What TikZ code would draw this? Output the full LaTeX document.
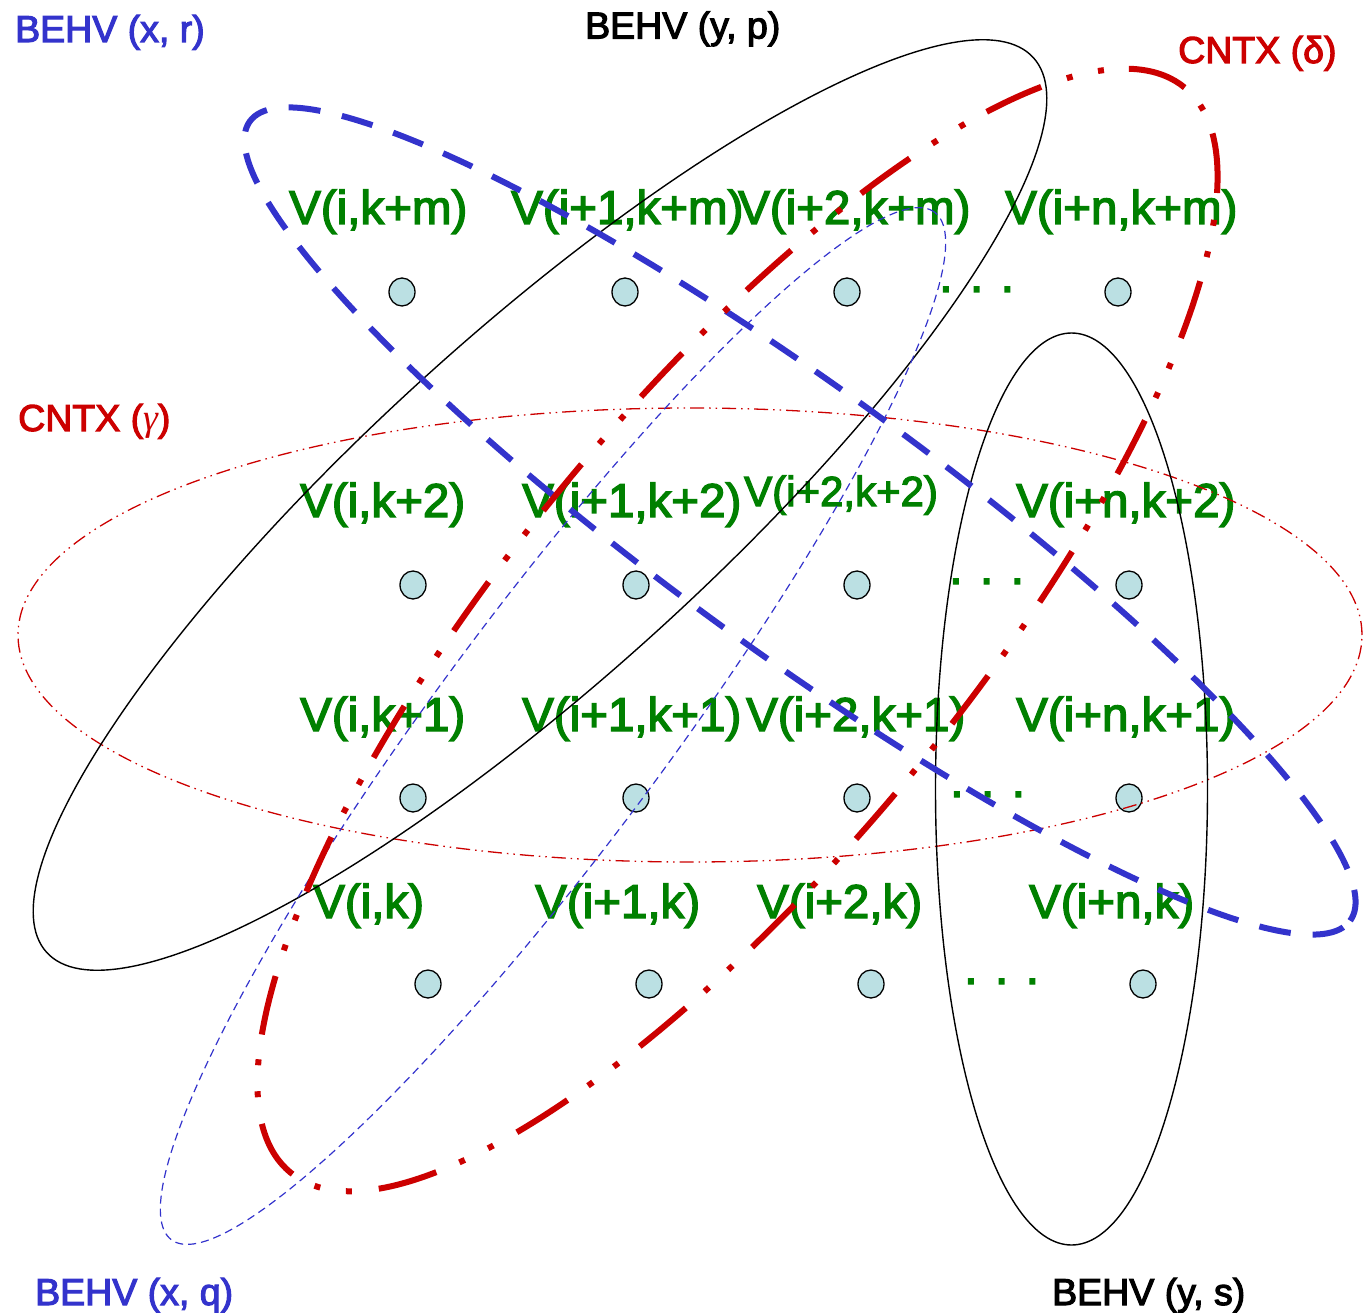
\documentclass[tikz,border=0pt]{standalone}
\usepackage{fontspec}
\setmainfont{Liberation Sans}
\newfontfamily\heavysans{Liberation Sans}[FakeBold=3]
\newfontfamily\greekserif{Liberation Serif}
\usetikzlibrary{shapes.geometric}
\definecolor{vgreen}{RGB}{0,128,0}
\definecolor{bblue}{RGB}{51,51,204}
\definecolor{cred}{RGB}{204,0,0}
\definecolor{dotfill}{RGB}{187,224,227}
\begin{document}
\begin{tikzpicture}[x=1pt,y=-1pt,
  vlab/.style={anchor=base west, inner sep=0pt, text=vgreen, font=\heavysans\fontsize{47.5}{50}\selectfont},
  vsmall/.style={vlab, font=\heavysans\fontsize{42}{45}\selectfont},
  ttl/.style={anchor=base west, inner sep=0pt, font=\heavysans\fontsize{37.5}{40}\selectfont},
  vert/.style={ellipse, draw=black, line width=1.3pt, fill=dotfill, minimum width=26pt, minimum height=28pt, inner sep=0pt},
  behvblack/.style={draw=black, line width=1.4pt},
  behvblue/.style={draw=bblue, line width=6pt, dash pattern=on 32pt off 22pt},
  behvbluethin/.style={draw=bblue, line width=1.2pt, dash pattern=on 8pt off 5pt},
  cntxthick/.style={draw=cred, line width=6pt, dash pattern=on 60pt off 25pt on 6pt off 26pt on 6pt off 27pt},
  cntxthin/.style={draw=cred, line width=1.3pt, dash pattern=on 14pt off 5pt on 1.5pt off 5pt on 1.5pt off 5pt}
]
\useasboundingbox (0,0) rectangle (1363,1313);

% titles
\node[ttl, text=bblue] (txr) at (15,42) {BEHV (x, r)};
\node[ttl, text=black] (typ) at (585,38.5) {BEHV (y, p)};
\node[ttl, text=cred] (cdelta) at (1178,63) {CNTX (δ)};
\node[ttl, text=cred] (cgamma) at (18,431) {CNTX ({\greekserif\itshape γ})};
\node[ttl, text=bblue] (txq) at (35,1305) {BEHV (x, q)};
\node[ttl, text=black] (tys) at (1052,1305) {BEHV (y, s)};

% vertex labels
\node[vlab] (lm0) at (289,224) {V(i,k+m)};
\node[vlab] (lm1) at (511,224) {V(i+1,k+m)};
\node[vlab] (lm2) at (738,224) {V(i+2,k+m)};
\node[vlab] (lmn) at (1005,224) {V(i+n,k+m)};
\node[vlab] (lb0) at (300,517) {V(i,k+2)};
\node[vlab] (lb1) at (522,517) {V(i+1,k+2)};
\node[vsmall] (lb2) at (744,506) {V(i+2,k+2)};
\node[vlab] (lbn) at (1016,517) {V(i+n,k+2)};
\node[vlab] (la0) at (300,731) {V(i,k+1)};
\node[vlab] (la1) at (522,731) {V(i+1,k+1)};
\node[vlab] (la2) at (746,731) {V(i+2,k+1)};
\node[vlab] (lan) at (1016,731) {V(i+n,k+1)};
\node[vlab] (lk0) at (313,918) {V(i,k)};
\node[vlab] (lk1) at (535,918) {V(i+1,k)};
\node[vlab] (lk2) at (757,918) {V(i+2,k)};
\node[vlab] (lkn) at (1029,918) {V(i+n,k)};

% ellipsis dots
\node[vlab] (em) at (939,292) {. . .};
\node[vlab] (eb) at (949,584) {. . .};
\node[vlab] (ea) at (950,797) {. . .};
\node[vlab] (ek) at (964,984) {. . .};

% vertices
\node[vert] (vm0) at (402,292) {};
\node[vert] (vm1) at (625,292) {};
\node[vert] (vm2) at (847,292) {};
\node[vert] (vmn) at (1118,292) {};
\node[vert] (vb0) at (413,585) {};
\node[vert] (vb1) at (636,585) {};
\node[vert] (vb2) at (857,585) {};
\node[vert] (vbn) at (1129,585) {};
\node[vert] (va0) at (413,798) {};
\node[vert] (va1) at (636,798) {};
\node[vert] (va2) at (857,798) {};
\node[vert] (van) at (1129,798) {};
\node[vert] (vk0) at (428,984) {};
\node[vert] (vk1) at (649,984) {};
\node[vert] (vk2) at (871,984) {};
\node[vert] (vkn) at (1143,984) {};

% grouping ellipses
\draw[cntxthin] (690,635) ellipse [x radius=672pt, y radius=227pt];
\draw[behvblack, rotate around={42.2:(540,505)}] (540,505) ellipse [x radius=666pt, y radius=172pt];
\draw[behvblack] (1071.5,789) ellipse [x radius=136pt, y radius=456pt];
\draw[behvbluethin, rotate around={53.4:(553,726)}] (553,726) ellipse [x radius=640pt, y radius=115pt];
\draw[behvblue, rotate around={-36:(800,521)}] (800,521) ellipse [x radius=680pt, y radius=131pt];
\draw[cntxthick, rotate around={50.5:(737.5,630)}] (737.5,630) ellipse [x radius=703pt, y radius=226pt];
\end{tikzpicture}
\end{document}
